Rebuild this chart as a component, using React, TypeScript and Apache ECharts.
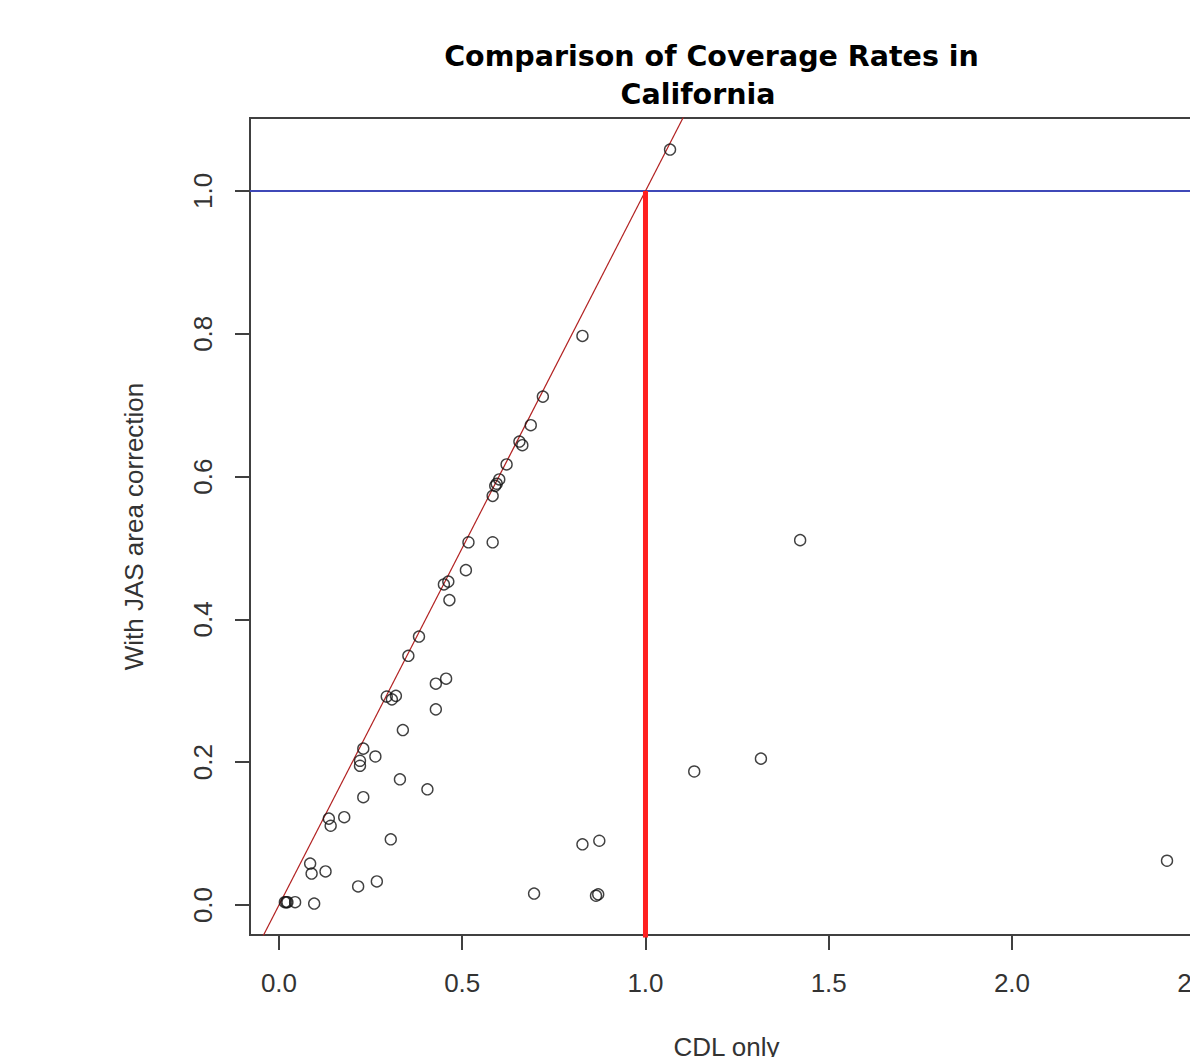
import React, { useEffect, useRef } from "react";
import * as echarts from "echarts";

// Coverage rate, CDL only (x) vs with JAS area correction (y)
const cdlOnly = [
  1.067, 0.828, 0.720, 0.687, 0.656, 0.664, 0.621, 0.601, 0.594, 0.590,
  0.583, 0.517, 0.583, 0.510, 0.462, 0.450, 0.465, 0.382, 0.353, 0.456,
  0.428, 0.294, 0.308, 0.319, 0.428, 0.338, 0.230, 0.263, 0.221, 0.221,
  0.330, 0.405, 0.230, 0.136, 0.141, 0.178, 0.305, 0.085, 0.089, 0.127,
  0.216, 0.267, 0.016, 0.020, 0.023, 0.044, 0.096, 0.696, 0.828, 0.874,
  0.865, 0.871, 1.133, 1.315, 1.422, 2.423,
];
const jasCorrected = [
  1.058, 0.797, 0.712, 0.672, 0.649, 0.644, 0.617, 0.596, 0.590, 0.587,
  0.573, 0.508, 0.508, 0.469, 0.453, 0.449, 0.427, 0.376, 0.349, 0.317,
  0.310, 0.292, 0.288, 0.293, 0.274, 0.245, 0.219, 0.208, 0.202, 0.195,
  0.176, 0.162, 0.151, 0.121, 0.111, 0.123, 0.092, 0.058, 0.044, 0.047,
  0.026, 0.033, 0.004, 0.004, 0.004, 0.004, 0.002, 0.016, 0.085, 0.090,
  0.013, 0.015, 0.187, 0.205, 0.511, 0.062,
];

const xTicks = [0, 0.5, 1.0, 1.5, 2.0, 2.5];
const yTicks = [0, 0.2, 0.4, 0.6, 0.8, 1.0];
const xRange = [-0.0791, 2.5212];
const yRange = [-0.042, 1.1022];
const refLevel = 1.0;
const titleLines = ["Comparison of Coverage Rates in", "California"];
const xName = "CDL only";
const yName = "With JAS area correction";

const AXIS_COLOR = "#404040";
const LABEL_FONT = "Liberation Sans";

export default function App() {
  const ref = useRef<HTMLDivElement>(null);

  useEffect(() => {
    if (!ref.current) return;
    const chart = echarts.init(ref.current, undefined, { renderer: "svg" });

    const points = cdlOnly.map((x, i) => [x, jasCorrected[i]]);

    chart.setOption({
      animation: false,
      backgroundColor: "#ffffff",
      graphic: [
        {
          type: "text",
          x: 711.5,
          y: 56,
          style: {
            text: titleLines[0],
            font: "bold 28.5px 'DejaVu Sans'",
            fill: "#000",
            textAlign: "center",
            textVerticalAlign: "middle",
          },
        },
        {
          type: "text",
          x: 698,
          y: 94,
          style: {
            text: titleLines[1],
            font: "bold 28.5px 'DejaVu Sans'",
            fill: "#000",
            textAlign: "center",
            textVerticalAlign: "middle",
          },
        },
      ],
      grid: {
        left: 250,
        top: 118,
        width: 953,
        height: 817,
        show: true,
        borderColor: AXIS_COLOR,
        borderWidth: 2,
        backgroundColor: "transparent",
        containLabel: false,
        outerBoundsMode: "none",
      },
      xAxis: {
        type: "value",
        min: xRange[0],
        max: xRange[1],
        name: xName,
        nameLocation: "middle",
        nameGap: 99,
        nameTextStyle: {
          fontFamily: LABEL_FONT,
          fontSize: 26,
          color: "#333",
        },
        axisLine: { show: false, onZero: false },
        splitLine: { show: false },
        axisTick: {
          show: true,
          inside: false,
          customValues: xTicks,
          length: 15,
          lineStyle: { color: AXIS_COLOR, width: 2 },
        },
        axisLabel: {
          customValues: xTicks,
          formatter: (v: number) => v.toFixed(1),
          margin: 35,
          fontFamily: LABEL_FONT,
          fontSize: 26,
          color: "#333",
        },
      },
      yAxis: {
        type: "value",
        min: yRange[0],
        max: yRange[1],
        name: yName,
        nameLocation: "middle",
        nameGap: 103,
        nameTextStyle: {
          fontFamily: LABEL_FONT,
          fontSize: 26,
          color: "#333",
        },
        axisLine: { show: false, onZero: false },
        splitLine: { show: false },
        axisTick: {
          show: true,
          inside: false,
          customValues: yTicks,
          length: 15,
          lineStyle: { color: AXIS_COLOR, width: 2 },
        },
        axisLabel: {
          customValues: yTicks,
          formatter: (v: number) => v.toFixed(1),
          rotate: 90,
          margin: 34,
          fontFamily: LABEL_FONT,
          fontSize: 26,
          color: "#333",
        },
      },
      series: [
        {
          type: "line",
          data: [
            [xRange[0], refLevel],
            [xRange[1], refLevel],
          ],
          symbol: "none",
          clip: true,
          silent: true,
          lineStyle: { color: "#3f48b8", width: 2 },
          z: 2,
        },
        {
          type: "line",
          data: [
            [yRange[0] - 0.1, yRange[0] - 0.1],
            [yRange[1] + 0.1, yRange[1] + 0.1],
          ],
          symbol: "none",
          clip: true,
          silent: true,
          lineStyle: { color: "#b22222", width: 1.2 },
          z: 2,
        },
        {
          type: "line",
          data: [
            [refLevel, yRange[0] - 0.1],
            [refLevel, refLevel],
          ],
          symbol: "none",
          clip: true,
          silent: true,
          lineStyle: { color: "#ff1f1f", width: 5 },
          z: 3,
        },
        {
          type: "scatter",
          data: points,
          symbol: "circle",
          symbolSize: 11,
          clip: false,
          itemStyle: {
            color: "rgba(0,0,0,0)",
            borderColor: "#111",
            borderWidth: 1.4,
          },
          z: 4,
        },
      ],
    });

    return () => chart.dispose();
  }, []);

  return (
    <div
      style={{
        position: "absolute",
        left: 0,
        top: 0,
        width: 1190,
        height: 1057,
        overflow: "hidden",
        background: "#fff",
      }}
    >
      <div ref={ref} style={{ width: 1240, height: 1057 }} />
    </div>
  );
}
